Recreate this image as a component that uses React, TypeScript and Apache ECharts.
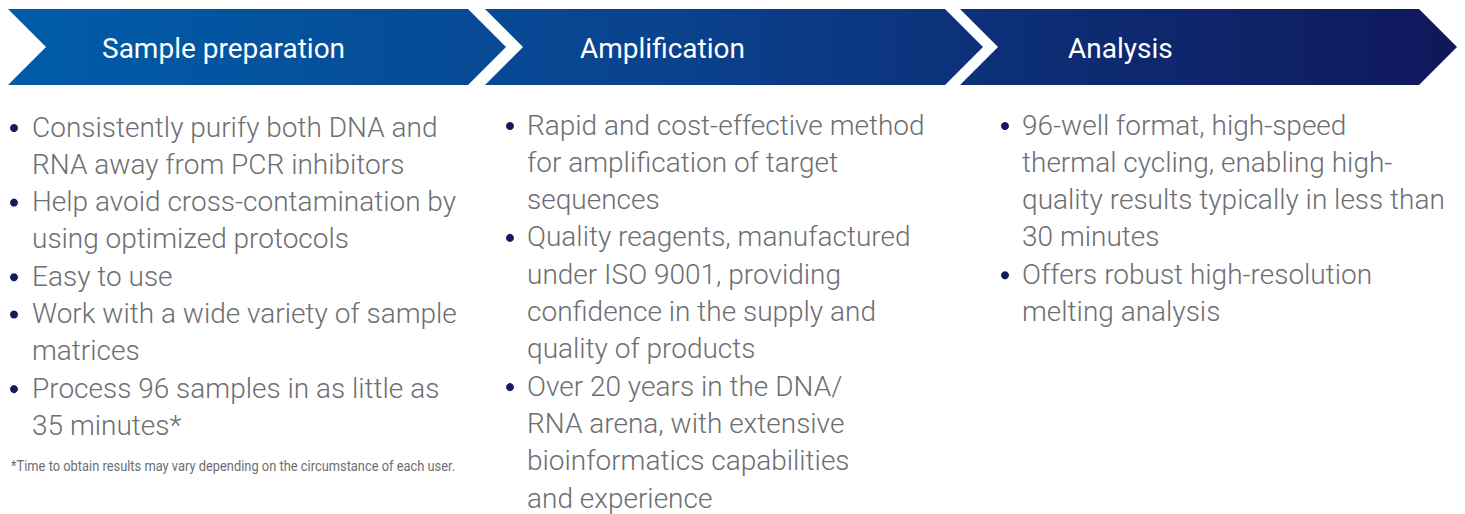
import React, { useEffect, useRef } from "react";
import * as echarts from "echarts";

const stages = ["Sample preparation", "Amplification", "Analysis"];

const prepBullets = [
  ["Consistently purify both DNA and", "RNA away from PCR inhibitors"],
  ["Help avoid cross-contamination by", "using optimized protocols"],
  ["Easy to use"],
  ["Work with a wide variety of sample", "matrices"],
  ["Process 96 samples in as little as", "35 minutes*"],
];

const ampBullets = [
  ["Rapid and cost-effective method", "for amplification of target", "sequences"],
  ["Quality reagents, manufactured", "under ISO 9001, providing", "confidence in the supply and", "quality of products"],
  ["Over 20 years in the DNA/", "RNA arena, with extensive", "bioinformatics capabilities", "and experience"],
];

const analysisBullets = [
  ["96-well format, high-speed", "thermal cycling, enabling high-", "quality results typically in less than", "30 minutes"],
  ["Offers robust high-resolution", "melting analysis"],
];

const footnote = "*Time to obtain results may vary depending on the circumstance of each user.";

const columns = [prepBullets, ampBullets, analysisBullets];

// layout constants
const arrowLeft = [8, 485, 960];
const arrowRightTop = [468, 945, 1419];
const arrowTop = 9;
const arrowBottom = 85;
const notch = 38;
const titleX = [102, 580, 1068];
const bulletX = [14, 510, 1005];
const textX = [32, 527, 1022];
const firstLineY = [127, 125, 125];
const lineStep = 37.3;
const FONT = "Roboto, 'Open Sans', sans-serif";
const TEXT_COLOR = "#6d6e71";
const DOT_COLOR = "#141b5a";

export default function App() {
  const ref = useRef<HTMLDivElement>(null);
  useEffect(() => {
    if (!ref.current) return;
    const chart = echarts.init(ref.current, undefined, { renderer: "svg" });
    const grad = new echarts.graphic.LinearGradient(
      8, 0, 1457, 0,
      [
        { offset: 0, color: "#005da9" },
        { offset: 0.45, color: "#0a428e" },
        { offset: 1, color: "#10175a" },
      ],
      true
    );
    const elements: any[] = [];
    const midY = (arrowTop + arrowBottom) / 2;
    stages.forEach((name, i) => {
      const l = arrowLeft[i];
      const r = arrowRightTop[i];
      elements.push({
        type: "polygon",
        shape: {
          points: [
            [l, arrowTop],
            [r, arrowTop],
            [r + notch, midY],
            [r, arrowBottom],
            [l, arrowBottom],
            [l + notch, midY],
          ],
        },
        style: { fill: grad },
      });
      elements.push({
        type: "text",
        x: titleX[i],
        y: midY + 1,
        style: {
          text: name,
          fill: "#ffffff",
          fontFamily: FONT,
          fontSize: 28,
          fontWeight: 400,
          align: "left",
          verticalAlign: "middle",
        },
      });
    });
    columns.forEach((bullets, c) => {
      let line = 0;
      bullets.forEach((b) => {
        const y0 = firstLineY[c] + line * lineStep;
        elements.push({
          type: "circle",
          shape: { cx: bulletX[c], cy: y0 + 1, r: 4 },
          style: { fill: DOT_COLOR },
        });
        b.forEach((txt) => {
          elements.push({
            type: "text",
            x: textX[c],
            y: firstLineY[c] + line * lineStep,
            style: {
              text: txt,
              fill: TEXT_COLOR,
              fontFamily: FONT,
              fontSize: 28,
              fontWeight: 300,
              align: "left",
              verticalAlign: "middle",
            },
          });
          line++;
        });
      });
    });
    elements.push({
      type: "text",
      x: 11,
      y: 466,
      scaleX: 0.858,
      style: {
        text: footnote,
        fill: TEXT_COLOR,
        fontFamily: FONT,
        fontSize: 15,
        fontWeight: 400,
        align: "left",
        verticalAlign: "middle",
      },
    });
    chart.setOption({ animation: false, graphic: { elements } });
    return () => chart.dispose();
  }, []);
  return (
    <div
      ref={ref}
      style={{ position: "fixed", left: 0, top: 0, width: 1465, height: 514, background: "#fff" }}
    />
  );
}
